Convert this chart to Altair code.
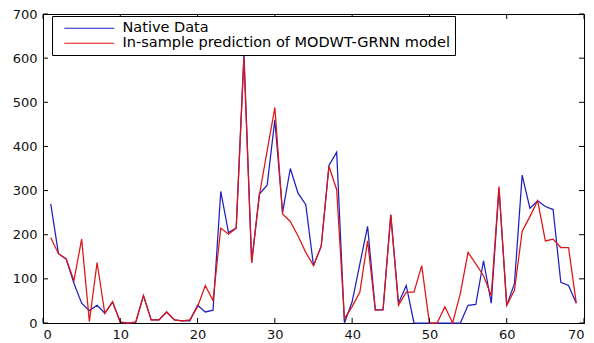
import altair as alt
import pandas as pd

# ---- data ----
x_index = list(range(1, 70))

native = [270, 157, 145, 90, 45, 28, 40, 22, 48, 2,
          0, 2, 62, 7, 7, 25, 7, 5, 5, 40,
          25, 29, 298, 205, 215, 610, 138, 292, 312, 460,
          250, 350, 294, 268, 130, 174, 357, 387, 0, 48,
          134, 219, 30, 30, 245, 45, 85, 0, 0, 0,
          0, 0, 0, 0, 40, 42, 141, 45, 305, 40,
          89, 335, 260, 277, 264, 257, 92, 85, 45]

predicted = [193, 157, 145, 96, 190, 3, 137, 22, 48, 2,
             0, 2, 62, 7, 7, 25, 7, 5, 7, 37,
             85, 51, 215, 201, 215, 600, 136, 290, 390, 488,
             247, 230, 197, 160, 130, 174, 355, 302, 10, 37,
             70, 186, 29, 30, 245, 40, 70, 70, 130, 0,
             0, 37, 0, 67, 160, 134, 107, 62, 309, 40,
             74, 208, 241, 277, 186, 190, 171, 171, 45]

series_names = ["Native Data", "In-sample prediction of MODWT-GRNN model"]
series_colors = ["#1f1fc0", "#e01414"]

x_ticks = [0, 10, 20, 30, 40, 50, 60, 70]
y_ticks = [0, 100, 200, 300, 400, 500, 600, 700]

W, H = 541, 309
FONT = "DejaVu Sans"

df_native = pd.DataFrame({"x": x_index, "value": native, "series": series_names[0]})
df_pred = pd.DataFrame({"x": x_index, "value": predicted, "series": series_names[1]})
df_xt = pd.DataFrame({"x": x_ticks})
df_yt = pd.DataFrame({"value": y_ticks})

xscale = alt.Scale(domain=[0, 70], nice=False, zero=False)
yscale = alt.Scale(domain=[0, 700], nice=False)

color = alt.Color(
    "series:N",
    scale=alt.Scale(domain=series_names, range=series_colors),
    legend=alt.Legend(
        title=None,
        orient="none",
        legendX=9,
        legendY=2,
        direction="vertical",
        strokeColor="black",
        fillColor="white",
        cornerRadius=0,
        padding=5,
        symbolType="M-5,0H5",
        symbolSize=100,
        symbolOffset=25,
        symbolStrokeWidth=1.2,
        labelFont=FONT,
        labelFontSize=14.5,
        labelColor="black",
        labelOffset=26,
        labelLimit=0,
        rowPadding=0,
    ),
)

axis_common = dict(ticks=False, grid=False, domainColor="black",
                   labelFont=FONT, labelFontSize=13, labelColor="#111111",
                   format="d")
x_enc = alt.X("x:Q", scale=xscale, title=None,
              axis=alt.Axis(values=x_ticks, labelPadding=5, **axis_common))
y_enc = alt.Y("value:Q", scale=yscale, title=None,
              axis=alt.Axis(values=y_ticks, labelPadding=6, **axis_common))

line_native = alt.Chart(df_native).mark_line(strokeWidth=1.25).encode(
    x=x_enc, y=y_enc, color=color
)
line_pred = alt.Chart(df_pred).mark_line(strokeWidth=1.25).encode(
    x=x_enc, y=y_enc, color=color
)

tick_style = dict(color="black", strokeWidth=1)
xt_bottom = alt.Chart(df_xt).mark_rule(**tick_style).encode(
    x=x_enc, y=alt.value(H), y2=alt.value(H - 5)
)
xt_top = alt.Chart(df_xt).mark_rule(**tick_style).encode(
    x=x_enc, y=alt.value(0), y2=alt.value(5)
)
yt_left = alt.Chart(df_yt).mark_rule(**tick_style).encode(
    y=y_enc, x=alt.value(0), x2=alt.value(5)
)
yt_right = alt.Chart(df_yt).mark_rule(**tick_style).encode(
    y=y_enc, x=alt.value(W), x2=alt.value(W - 5)
)

chart = (
    alt.layer(line_native, line_pred, xt_bottom, xt_top, yt_left, yt_right)
    .properties(
        width=W,
        height=H,
        padding={"left": 35, "top": 6, "right": 2, "bottom": 18},
        autosize=alt.AutoSizeParams(type="none"),
        background="white",
    )
    .configure_view(stroke="black", strokeWidth=1)
)

chart.save("out.html", embed_options={"renderer": "svg", "actions": False})
